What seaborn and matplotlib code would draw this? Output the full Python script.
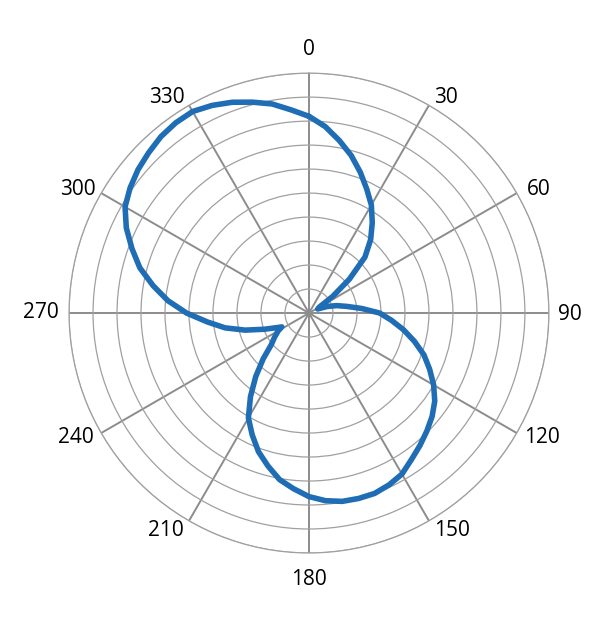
import numpy as np
import pandas as pd
import seaborn as sns
import matplotlib
matplotlib.use('Agg')
import matplotlib.pyplot as plt

# angle (degrees) and radius
angles = [0, 5, 10, 15, 20, 25, 30, 35, 40, 45, 50, 55, 60, 65, 70, 75, 80, 85,
          90, 95, 100, 105, 110, 115, 120, 125, 130, 135, 140, 145, 150, 155, 160, 165,
          170, 175, 180, 185, 190, 195, 200, 205, 210, 215, 220, 225, 230, 235, 240, 243,
          245, 250, 255, 260, 265, 270, 275, 280, 285, 290, 295, 300, 305, 310, 315, 320,
          325, 330, 335, 340, 345, 350, 355, 360]
radius = [8.2, 7.8, 7.3, 6.8, 6.25, 5.7, 5.2, 4.6, 4.0, 3.3, 2.2, 1.2, 0.5, 0.4, 0.8, 1.2, 1.6, 2.2,
          2.95, 3.45, 4.0, 4.55, 5.1, 5.55, 6.0, 6.4, 6.7, 6.95, 7.2, 7.45, 7.75, 7.9, 8.0, 8.0,
          7.97, 7.85, 7.65, 7.35, 7.05, 6.6, 6.15, 5.6, 5.05, 4.25, 3.45, 2.7, 2.05, 1.75, 1.48, 1.27,
          1.42, 1.97, 2.75, 3.55, 4.25, 5.1, 5.9, 6.6, 7.3, 7.85, 8.4, 8.85, 9.1, 9.3, 9.45, 9.6,
          9.68, 9.7, 9.55, 9.35, 9.1, 8.85, 8.5, 8.2]
tick_angles = list(range(0, 360, 30))
tick_labels = [str(a) for a in tick_angles]
rings = list(range(1, 11))

# where the angle labels sit (baseline point, polar coords)
label_theta = [0, 33.2, 62.8, 91.5, 119.2, 147.3, 180, 212.7, 240.8, 268.9, 297.1, 326.0]
label_r = [10.75, 10.44, 10.75, 10.88, 11.12, 11.04, 11.33, 11.04, 11.12, 11.18, 10.81, 10.57]

df = pd.DataFrame({'theta': np.deg2rad(angles), 'r': radius})

sns.set_style('white')
plt.rcParams['font.family'] = ['Open Sans', 'DejaVu Sans']

fig = plt.figure(figsize=(6.12, 6.24), dpi=100)
ax = fig.add_axes([0.1127, 0.1138, 0.7843, 0.769], projection='polar')
ax.set_theta_zero_location('N')
ax.set_theta_direction(-1)

sns.lineplot(data=df, x='theta', y='r', sort=False, ax=ax, color='#1f6db4',
             linewidth=4.0, zorder=5, solid_joinstyle='round', solid_capstyle='round')

ax.set_ylim(0, 10)
ax.set_rgrids(rings, labels=[''] * len(rings))
ax.set_thetagrids(tick_angles, [''] * len(tick_angles))
ax.set_xlabel('')
ax.set_ylabel('')
ax.yaxis.grid(True, color='#a0a0a0', linewidth=0.9)
ax.xaxis.grid(True, color='#8c8c8c', linewidth=1.4)
ax.spines['polar'].set_color('#a0a0a0')
ax.spines['polar'].set_linewidth(0.9)

for lab, th, rr in zip(tick_labels, label_theta, label_r):
    ax.text(np.deg2rad(th), rr, lab, ha='center', va='baseline', fontsize=15,
            color='black', clip_on=False)

plt.savefig('out.png', dpi=100)
